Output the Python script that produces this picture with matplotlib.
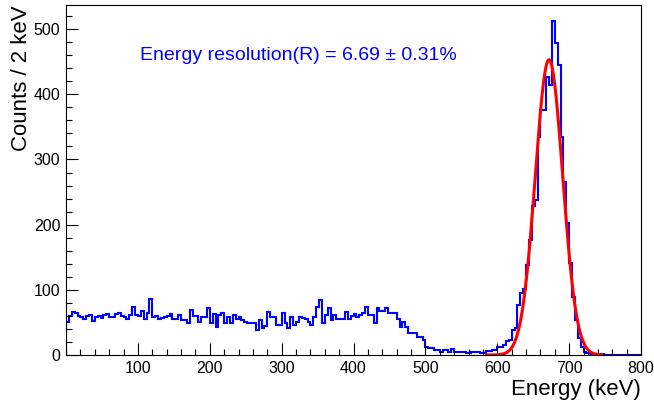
import numpy as np
import matplotlib
matplotlib.use("Agg")
import matplotlib.pyplot as plt
from matplotlib.ticker import MultipleLocator

plt.rcParams['font.family'] = ['Liberation Sans', 'DejaVu Sans']

# histogram: 4 keV bins from 0 to 800 keV
bin_lo = 0
bin_hi = 800
bin_width = 4
counts = [
    51, 60, 66, 64, 60, 58, 55, 60, 62, 52, 58, 60, 57, 62, 63, 59, 58, 63, 65, 60,
    58, 56, 62, 74, 62, 60, 67, 56, 64, 86, 58, 60, 55, 57, 58, 60, 63,
    56, 56, 62, 54, 54, 49, 69, 60, 60, 51, 59, 59, 72, 49, 63, 43, 61, 64, 49, 58,
    49, 61, 56, 59, 54, 51, 49, 49, 49, 39, 54, 41, 44, 66, 59, 59, 46,
    46, 64, 49, 41, 59, 46, 50, 59, 57, 56, 51, 46, 58, 74, 84, 49, 61, 72, 54, 61,
    55, 56, 56, 66, 55, 60, 63, 58, 62, 64, 74, 61, 61, 49, 72, 68, 68,
    72, 64, 65, 65, 55, 43, 50, 43, 34, 33, 33, 28, 28, 23, 12, 10, 10, 8, 8, 5,
    8, 8, 5, 9, 5, 5, 5, 5, 3, 3, 4, 4, 4, 3, 3, 6, 6,
    7, 8, 13, 13, 15, 22, 23, 38, 41, 77, 95, 102, 138, 176, 228, 238, 335, 376, 376, 427,
    414, 513, 478, 445, 335, 266, 202, 141, 89, 54, 26, 13, 5, 3,
    2, 1, 1, 0, 1, 0, 0, 0, 0, 0, 0, 0, 0, 0, 0, 0, 0, 0,
]

# gaussian fit
fit_amp = 453
fit_mean = 672
fit_sigma = 19.1
fit_lo = 585
fit_hi = 745

x_ticks = [100, 200, 300, 400, 500, 600, 700, 800]
y_ticks = [0, 100, 200, 300, 400, 500]
label_text = "Energy resolution(R) = 6.69 \u00b1 0.31%"

edges = np.arange(bin_lo, bin_hi + bin_width, bin_width)

fig = plt.figure(figsize=(6.54, 4.0), dpi=100)
ax = fig.add_axes([66 / 654, 45 / 400, 575 / 654, 350 / 400])

ax.stairs(counts, edges, color='#0000ff', linewidth=1.5, baseline=0)

xf = np.linspace(fit_lo, fit_hi, 400)
yf = fit_amp * np.exp(-0.5 * ((xf - fit_mean) / fit_sigma) ** 2)
ax.plot(xf, yf, color='#ff0000', linewidth=2.2)

ax.set_xlim(bin_lo, bin_hi)
ax.set_ylim(0, 537)
ax.set_xticks(x_ticks)
ax.set_yticks(y_ticks)
ax.xaxis.set_minor_locator(MultipleLocator(20))
ax.yaxis.set_minor_locator(MultipleLocator(20))
ax.tick_params(which='both', direction='in', top=False, right=False,
               labelsize=11.5, width=0.8)
ax.tick_params(which='major', length=8.5)
ax.tick_params(which='minor', length=4.5)
ax.tick_params(axis='y', pad=4)
ax.tick_params(axis='x', pad=4)
for s in ax.spines.values():
    s.set_linewidth(0.8)

ax.text(103, 460, label_text, color='#0000ff', fontsize=14,
        ha='left', va='center')

fig.text(641 / 654, 5 / 400, "Energy (keV)", fontsize=16,
         ha='right', va='baseline')
fig.text(22 / 654, 395 / 400, "Counts / 2 keV", fontsize=16,
         rotation=90, ha='center', va='top')

fig.savefig("out.png", dpi=100)
